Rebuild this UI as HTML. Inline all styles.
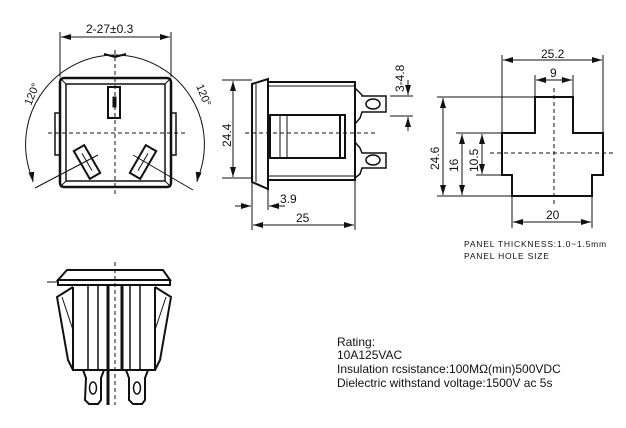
<!DOCTYPE html>
<html><head><meta charset="utf-8"><style>
html,body{margin:0;padding:0;background:#fff;width:626px;height:428px;overflow:hidden}
svg{display:block}
text{font-family:"Liberation Sans",sans-serif;fill:#111}
</style></head><body>
<svg width="626" height="428" viewBox="0 0 626 428" xmlns="http://www.w3.org/2000/svg">
<defs>
<marker id="a" viewBox="0 0 10 6" refX="10" refY="3" markerWidth="10" markerHeight="6" orient="auto-start-reverse" markerUnits="userSpaceOnUse"><path d="M0,0L10,3L0,6z" fill="#111"/></marker>
</defs>
<g stroke="#111" fill="none" stroke-width="1">
<!-- FRONT VIEW -->
<line x1="60" y1="32" x2="60" y2="77"/><line x1="171" y1="32" x2="171" y2="77"/>
<line x1="61" y1="37" x2="170" y2="37" marker-start="url(#a)" marker-end="url(#a)"/>
<line x1="115" y1="50" x2="115" y2="197" stroke-dasharray="4,3"/>
<line x1="48" y1="133" x2="187" y2="133" stroke-dasharray="4,3"/>
<path d="M33,180 A89.4,89.4 0 1 1 197,180" />
<line x1="32" y1="176" x2="33" y2="182" marker-end="url(#a)"/>
<line x1="198" y1="176" x2="197" y2="182" marker-end="url(#a)"/>
<path d="M104,54 L115,57 L126,54" stroke-width="2"/>
<line x1="35" y1="188" x2="98" y2="155"/><line x1="193" y1="190" x2="133" y2="155"/>
<rect x="60" y="78" width="111" height="109" rx="4" stroke-width="2.5"/>
<rect x="66" y="84" width="99" height="97" stroke-width="1.5"/>
<line x1="60" y1="78" x2="66" y2="84"/><line x1="171" y1="78" x2="165" y2="84"/>
<line x1="60" y1="187" x2="66" y2="181"/><line x1="171" y1="187" x2="165" y2="181"/>
<rect x="55" y="113" width="5" height="42" stroke-width="1.5"/>
<rect x="171" y="113" width="5" height="42" stroke-width="1.5"/>
<rect x="108" y="87" width="12" height="31" stroke-width="2"/>
<rect x="113" y="97" width="3" height="10" fill="#111"/>
<g transform="translate(87,162) rotate(-30)"><rect x="-6" y="-16" width="12" height="32" stroke-width="2"/><line x1="0" y1="-10" x2="0" y2="10"/></g>
<g transform="translate(143,162) rotate(30)"><rect x="-6" y="-16" width="12" height="32" stroke-width="2"/><line x1="0" y1="-10" x2="0" y2="10"/></g>
<!-- SIDE VIEW -->
<line x1="222" y1="80" x2="252" y2="80"/><line x1="222" y1="178" x2="252" y2="178"/>
<line x1="233" y1="81" x2="233" y2="177" marker-start="url(#a)" marker-end="url(#a)"/>
<path d="M252,84 L268,79 L268,189 L252,182 Z" stroke-width="2"/>
<line x1="256" y1="84" x2="256" y2="182"/>
<rect x="268" y="82" width="87" height="98" stroke-width="2"/>
<line x1="268" y1="86" x2="355" y2="86"/><line x1="268" y1="176" x2="355" y2="176"/>
<rect x="270" y="115" width="75" height="43" stroke-width="2"/>
<line x1="280" y1="115" x2="280" y2="158"/><line x1="287" y1="115" x2="287" y2="158"/>
<line x1="340" y1="115" x2="340" y2="158" stroke-width="2"/>
<path d="M355,88 L362,95 L362,96 L386,96 L386,112 L362,112 L360,118 L355,124" stroke-width="1.5"/>
<ellipse cx="373" cy="104" rx="7" ry="5" stroke-width="1.5"/>
<path d="M355,142 L360,148 L362,153 L386,153 L386,168 L362,168 L360,174 L355,178" stroke-width="1.5"/>
<ellipse cx="373" cy="160" rx="7" ry="5" stroke-width="1.5"/>
<line x1="245" y1="133" x2="375" y2="133" stroke-dasharray="4,3"/>
<line x1="390" y1="96" x2="413" y2="96"/><line x1="390" y1="116" x2="413" y2="116"/>
<line x1="408" y1="80" x2="408" y2="95" marker-end="url(#a)"/>
<line x1="408" y1="131" x2="408" y2="117" marker-end="url(#a)"/>
<line x1="252" y1="183" x2="252" y2="230"/><line x1="268" y1="189" x2="268" y2="210"/><line x1="355" y1="180" x2="355" y2="230"/>
<line x1="235" y1="206" x2="251" y2="206" marker-end="url(#a)"/>
<line x1="285" y1="206" x2="269" y2="206" marker-end="url(#a)"/>
<line x1="253" y1="225" x2="354" y2="225" marker-start="url(#a)" marker-end="url(#a)"/>
<!-- PANEL HOLE -->
<path d="M535,97 L573,97 L573,133 L603,133 L603,175 L592,175 L592,196 L512,196 L512,175 L502,175 L502,133 L535,133 Z" stroke-width="2"/>
<line x1="554" y1="88" x2="554" y2="205" stroke-dasharray="4,3"/>
<line x1="490" y1="153" x2="615" y2="153" stroke-dasharray="4,3"/>
<line x1="502" y1="55" x2="502" y2="133"/><line x1="603" y1="55" x2="603" y2="133"/>
<line x1="503" y1="60" x2="602" y2="60" marker-start="url(#a)" marker-end="url(#a)"/>
<line x1="535" y1="75" x2="535" y2="97"/><line x1="573" y1="75" x2="573" y2="97"/>
<line x1="536" y1="80" x2="572" y2="80" marker-start="url(#a)" marker-end="url(#a)"/>
<line x1="437" y1="97" x2="535" y2="97"/><line x1="437" y1="196" x2="512" y2="196"/>
<line x1="443" y1="98" x2="443" y2="195" marker-start="url(#a)" marker-end="url(#a)"/>
<line x1="456" y1="133" x2="502" y2="133"/><line x1="476" y1="175" x2="502" y2="175"/>
<line x1="462" y1="134" x2="462" y2="195" marker-start="url(#a)" marker-end="url(#a)"/>
<line x1="482" y1="134" x2="482" y2="174" marker-start="url(#a)" marker-end="url(#a)"/>
<line x1="512" y1="196" x2="512" y2="228"/><line x1="592" y1="196" x2="592" y2="228"/>
<line x1="513" y1="222" x2="591" y2="222" marker-start="url(#a)" marker-end="url(#a)"/>
<!-- BOTTOM VIEW -->
<path d="M67,270 L163,270 L170,280 L58,280 Z" stroke-width="2"/>
<rect x="58" y="280" width="112" height="5" stroke-width="2"/>
<line x1="47" y1="282" x2="58" y2="282"/>
<path d="M73,287 L57,297 L68,360 L73,370" stroke-width="2"/>
<path d="M155,287 L171,297 L160,360 L155,370" stroke-width="2"/>
<path d="M73,287 L73,370 L155,370 L155,287" stroke-width="2"/>
<line x1="62" y1="297" x2="73" y2="330"/>
<line x1="166" y1="297" x2="155" y2="330"/>
<line x1="88" y1="285" x2="88" y2="370" stroke-width="1.5"/><line x1="140" y1="285" x2="140" y2="370" stroke-width="1.5"/>
<line x1="98" y1="285" x2="98" y2="370" stroke-width="1.5"/><line x1="130" y1="285" x2="130" y2="370" stroke-width="1.5"/>
<line x1="108" y1="285" x2="108" y2="405" stroke-width="3"/><line x1="122" y1="285" x2="122" y2="370" stroke-width="3"/>
<line x1="115" y1="262" x2="115" y2="405" stroke-dasharray="4,3"/>
<path d="M83,370 L86,378 L85,400 L89,404 L98,404 L101,400 L101,378 L104,370" stroke-width="2"/>
<ellipse cx="93" cy="388" rx="3.5" ry="6" stroke-width="1.5"/>
<path d="M126,370 L129,378 L129,400 L133,404 L142,404 L145,400 L145,378 L148,370" stroke-width="2"/>
<ellipse cx="137" cy="388" rx="3.5" ry="6" stroke-width="1.5"/>
</g>
<g font-size="12">
<text x="86" y="33">2-27±0.3</text>
<text transform="translate(31,106) rotate(-68)" font-size="11">120°</text>
<text transform="translate(196,86) rotate(68)" font-size="11">120°</text>
<text transform="translate(231,147) rotate(-90)">24.4</text>
<text transform="translate(404,92) rotate(-90)">3-4.8</text>
<text x="280" y="203">3.9</text>
<text x="296" y="222">25</text>
<text x="541" y="58">25.2</text>
<text x="550" y="77">9</text>
<text transform="translate(439,170) rotate(-90)">24.6</text>
<text transform="translate(458,172) rotate(-90)">16</text>
<text transform="translate(478,172) rotate(-90)">10.5</text>
<text x="546" y="219">20</text>
<text x="464" y="247" font-size="8.5" letter-spacing="0.8">PANEL THICKNESS:1.0~1.5mm</text>
<text x="464" y="259" font-size="8.5" letter-spacing="0.8">PANEL HOLE SIZE</text>
<text x="337" y="346">Rating:</text>
<text x="337" y="359">10A125VAC</text>
<text x="337" y="373">Insulation rcsistance:100MΩ(min)500VDC</text>
<text x="337" y="387">Dielectric withstand voltage:1500V ac 5s</text>
</g>
</svg>
</body></html>
